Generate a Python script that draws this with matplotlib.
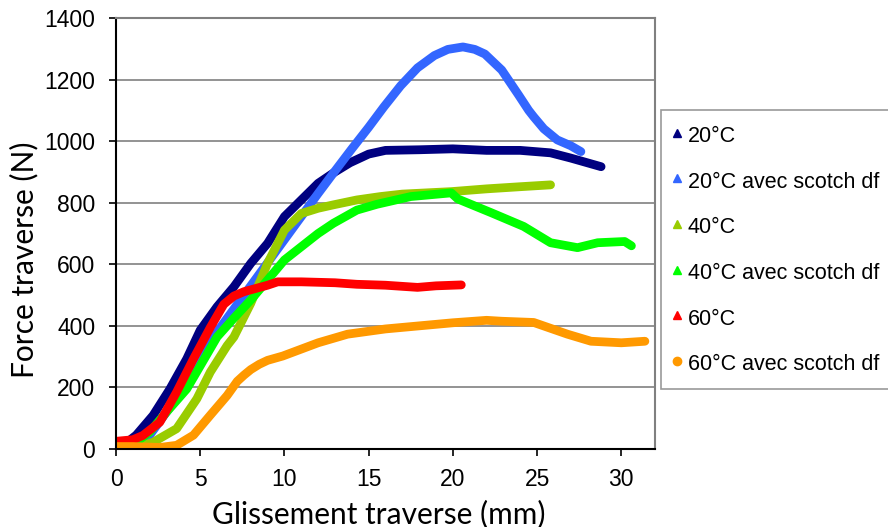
import numpy as np
import matplotlib
matplotlib.use("Agg")
import matplotlib.pyplot as plt
from matplotlib.lines import Line2D

# 20°C
x_20 = [0, 0.5, 1.2, 2.2, 3.2, 4.2, 5, 6, 7, 8, 9, 10, 11, 12, 13, 13.9, 15, 16, 18, 20, 22, 24, 25.8, 27, 28.8]
y_20 = [10, 15, 45, 109, 195, 293, 386, 462, 527, 603, 668, 755, 809, 863, 900, 930, 958, 970, 972, 975, 970, 970, 962, 945, 917]

# 20°C avec scotch df
x_20s = [0, 1, 2, 3, 4, 5, 6, 7, 8, 9, 10, 11, 12, 13, 14, 15, 15.9, 16.9, 17.9, 18.9, 19.7, 20.6, 21.3, 21.9, 22.9, 23.9, 24.5, 24.8, 25.4, 26.2, 27, 27.6]
y_20s = [0, 8, 45, 120, 200, 290, 380, 455, 530, 605, 680, 755, 830, 903, 975, 1045, 1111, 1180, 1238, 1278, 1298, 1306, 1298, 1283, 1231, 1150, 1100, 1079, 1040, 1004, 985, 966]

# 40°C
x_40 = [0, 1, 2.2, 3.6, 4.8, 5.6, 6.6, 7, 8, 9, 10, 11, 12, 12.9, 14.3, 15.7, 17, 19.9, 22, 24, 25.8]
y_40 = [0, 0, 22, 66, 163, 250, 336, 364, 473, 603, 711, 765, 782, 793, 809, 820, 828, 836, 845, 852, 858]

# 40°C avec scotch df
x_40s = [0, 1, 2, 3, 4.2, 5, 6, 7, 8, 9, 10, 11, 12, 12.9, 14.3, 15.5, 17.5, 19.9, 20.3, 22.3, 24.2, 25.8, 27.4, 28.6, 30.2, 30.6]
y_40s = [0, 15, 55, 120, 195, 270, 364, 425, 484, 549, 614, 657, 700, 733, 776, 795, 820, 832, 812, 767, 723, 670, 654, 670, 674, 660]

# 60°C
x_60 = [0, 1, 1.6, 2.6, 3.6, 4.6, 5.6, 6.4, 7, 7.6, 9, 9.6, 11, 13, 14.3, 16, 17.9, 19, 20.5]
y_60 = [25, 30, 44, 87, 185, 293, 395, 470, 497, 511, 532, 543, 543, 540, 535, 532, 525, 530, 533]

# 60°C avec scotch df
x_60s = [0, 1, 2.6, 3.6, 4.6, 5.6, 6.6, 7.2, 7.6, 8, 8.5, 9, 9.9, 12, 13.75, 16, 18, 20, 22, 22.9, 24.8, 26.8, 28.2, 30, 31.4]
y_60s = [8, 8, 5, 12, 45, 110, 174, 220, 240, 258, 275, 288, 302, 345, 373, 390, 400, 410, 418, 415, 411, 373, 350, 345, 350]

series = [
    (x_20, y_20, "20°C", "#000080", "^"),
    (x_20s, y_20s, "20°C avec scotch df", "#3366FF", "^"),
    (x_40, y_40, "40°C", "#99CC00", "^"),
    (x_40s, y_40s, "40°C avec scotch df", "#00FF00", "^"),
    (x_60, y_60, "60°C", "#FF0000", "^"),
    (x_60s, y_60s, "60°C avec scotch df", "#FF9900", "o"),
]

plt.rcParams['font.family'] = ['Liberation Sans', 'DejaVu Sans']

fig = plt.figure(figsize=(8.88, 5.27), dpi=100)
ax = fig.add_axes([116/888, 1-449/527, (655-116)/888, (449-18)/527])

handles = []
for xs, ys, lab, col, mk in series:
    ax.plot(xs, ys, color=col, lw=6.3, solid_capstyle='round', solid_joinstyle='round')
    handles.append(Line2D([], [], color=col, marker=mk, ls='none', markersize=6, label=lab))

ax.set_xlim(0, 32)
ax.set_ylim(0, 1400)
ax.set_xticks(np.arange(0, 31, 5))
ax.set_yticks(np.arange(0, 1401, 200))
ax.yaxis.grid(True, color='#808080', lw=1.2)
ax.set_axisbelow(True)
ax.tick_params(labelsize=16.5, length=5, width=1.2, direction='out')
ax.tick_params(axis='x', pad=9)
ax.tick_params(axis='y', pad=10)
for s in ['left', 'bottom']:
    ax.spines[s].set_linewidth(1.5)
    ax.spines[s].set_color('black')
for s in ['top', 'right']:
    ax.spines[s].set_linewidth(1.5)
    ax.spines[s].set_color('#808080')

ax.set_xlabel("Glissement traverse (mm)", fontsize=21.5, family=['Lato', 'DejaVu Sans'])
ax.set_ylabel("Force traverse (N)", fontsize=21.5, family=['Lato', 'DejaVu Sans'])
ax.xaxis.set_label_coords(0.487, -0.117)
ax.yaxis.set_label_coords(-0.143, 0.44)

leg = fig.legend(handles=handles, loc='upper left', bbox_to_anchor=(661/888, 1-110/527),
                 fontsize=15.5, frameon=True, fancybox=False, handlelength=0.25,
                 handleheight=1.26, handletextpad=0.38, labelspacing=1.02,
                 borderpad=0.62, borderaxespad=0)
leg.get_frame().set_edgecolor('#808080')
leg.get_frame().set_linewidth(1.2)

fig.savefig("out.png", dpi=100)
